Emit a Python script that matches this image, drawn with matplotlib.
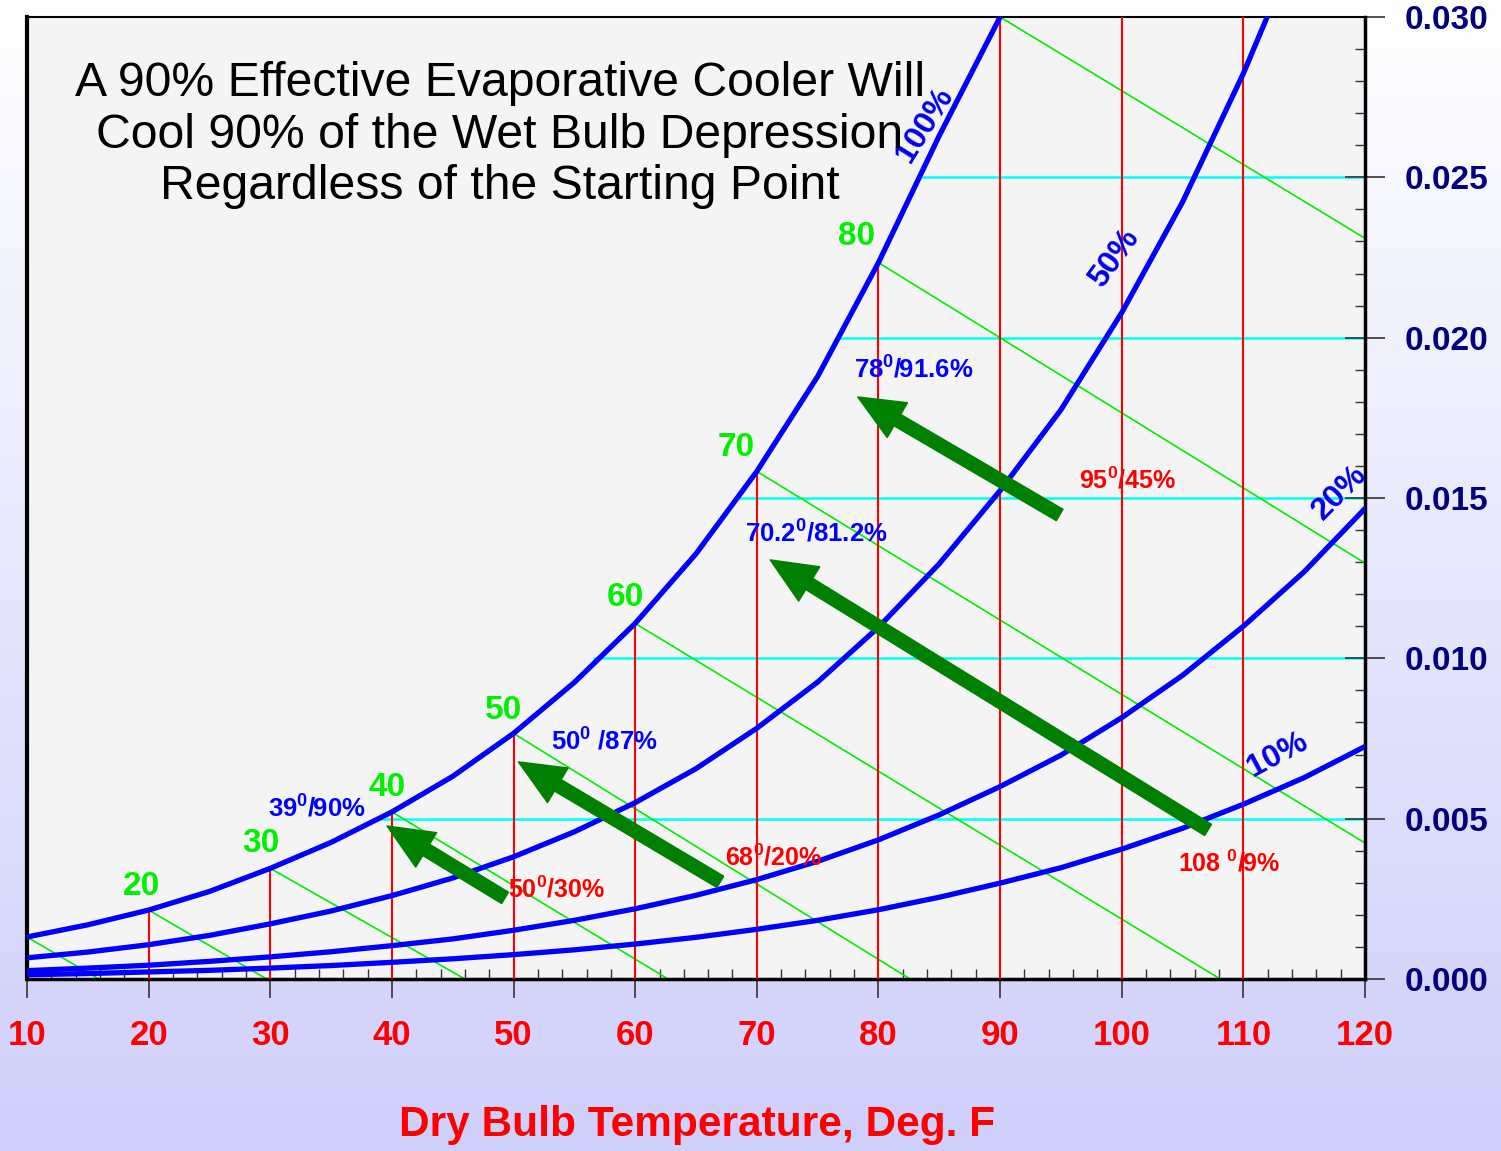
import matplotlib.pyplot as plt
import numpy as np
from matplotlib.colors import LinearSegmentedColormap
from matplotlib import font_manager

# dry bulb grid (deg F) and humidity ratio curves (lb water / lb dry air)
temps = [10, 15, 20, 25, 30, 35, 40, 45, 50, 55, 60, 65, 70, 75, 80, 85, 90,
         95, 100, 105, 110, 115, 120]
rh100 = [0.00131, 0.00169, 0.00215, 0.00273, 0.00345, 0.00426, 0.00521, 0.00632,
         0.00766, 0.00925, 0.01109, 0.01326, 0.01583, 0.01879, 0.02234, 0.0263, 0.0300]
rh50 = [0.00066, 0.00084, 0.00107, 0.00136, 0.00172, 0.00212, 0.00260, 0.00315,
        0.00381, 0.00459, 0.00550, 0.00656, 0.00782, 0.00926, 0.01097, 0.01295,
        0.01523, 0.01775, 0.02078, 0.02423, 0.02824, 0.03274, 0.03801]
rh20 = [0.00026, 0.00034, 0.00043, 0.00055, 0.00069, 0.00085, 0.00104, 0.00125,
        0.00152, 0.00183, 0.00219, 0.00261, 0.00310, 0.00367, 0.00434, 0.00512,
        0.00600, 0.00698, 0.00815, 0.00947, 0.01100, 0.01270, 0.01467]
rh10 = [0.00013, 0.00017, 0.00022, 0.00027, 0.00034, 0.00042, 0.00052, 0.00063,
        0.00076, 0.00091, 0.00109, 0.00130, 0.00155, 0.00183, 0.00216, 0.00255,
        0.00299, 0.00347, 0.00405, 0.00470, 0.00545, 0.00628, 0.00725]
rh_labels = ['100%', '50%', '20%', '10%']

# red dry bulb lines
db_temps = [20, 30, 40, 50, 60, 70, 80, 90, 100, 110]
db_tops = [0.00215, 0.00345, 0.00521, 0.00766, 0.01109, 0.01583, 0.02234, 0.030, 0.030, 0.030]

# green wet bulb lines
wb_labels = ['20', '30', '40', '50', '60', '70', '80']
wb_start_t = [10, 20, 30, 40, 50, 60, 70, 80, 90]
wb_start_w = [0.00131, 0.00215, 0.00345, 0.00521, 0.00766, 0.01109, 0.01583, 0.02234, 0.0300]
wb_end_t = [15.9, 29.7, 46.0, 62.7, 82.6, 108.1, 120, 120, 120]
wb_end_w = [0, 0, 0, 0, 0, 0, 0.00424, 0.01297, 0.0231]

# cyan constant humidity lines (start at dew point)
hum_w = [0.005, 0.010, 0.015, 0.020, 0.025]
hum_start_t = [39.0, 56.6, 68.6, 76.8, 83.7]

# evaporative cooling arrows (start -> end)
arr_t0 = [49.3, 67.0, 107.1, 94.9]
arr_w0 = [0.00253, 0.00303, 0.00465, 0.01447]
arr_t1 = [39.6, 50.4, 71.1, 78.3]
arr_w1 = [0.00477, 0.00677, 0.01307, 0.01815]

end_labels = ['39$^\\mathbf{0}$/90%', '50$^\\mathbf{0}$ /87%', '70.2$^\\mathbf{0}$/81.2%',
              '78$^\\mathbf{0}$/91.6%']
start_labels = ['50$^\\mathbf{0}$/30%', '68$^\\mathbf{0}$/20%', '95$^\\mathbf{0}$/45%',
                '108 $^\\mathbf{0}$/9%']

names = {f.name for f in font_manager.fontManager.ttflist}
narrow = 'Liberation Sans Narrow' if 'Liberation Sans Narrow' in names else 'Liberation Sans'

plt.rcParams['font.family'] = ['Liberation Sans', 'DejaVu Sans']
plt.rcParams['mathtext.fontset'] = 'custom'
plt.rcParams['mathtext.rm'] = 'Liberation Sans'
plt.rcParams['mathtext.bf'] = 'Liberation Sans:bold'

fig = plt.figure(figsize=(15.01, 11.51), dpi=100)

# background gradient
bg = fig.add_axes([0, 0, 1, 1], zorder=-10)
grad = np.linspace(0, 1, 256).reshape(-1, 1)
cmap = LinearSegmentedColormap.from_list('bg', ['#ffffff', '#cfcffb'])
bg.imshow(grad, aspect='auto', cmap=cmap, extent=[0, 1, 0, 1], origin='upper')
bg.axis('off')

ax = fig.add_axes([27 / 1501, 1 - 979 / 1151, 1338 / 1501, 962 / 1151])
ax.set_facecolor('#f4f4f4')

# humidity lines
for w, t in zip(hum_w, hum_start_t):
    ax.plot([t, 120], [w, w], color='#00ffff', lw=1.8, zorder=1)

# wet bulb lines
for t0, w0, t1, w1 in zip(wb_start_t, wb_start_w, wb_end_t, wb_end_w):
    ax.plot([t0, t1], [w0, w1], color='#00ee00', lw=1.2, zorder=2)

# dry bulb lines
for t, top in zip(db_temps, db_tops):
    ax.plot([t, t], [0, top], color='#ff0000', lw=1.5, zorder=3)

# relative humidity curves
ax.plot(temps[:len(rh100)], rh100, color='#0000ff', lw=3.8, zorder=4)
for curve in [rh50, rh20, rh10]:
    ax.plot(temps, curve, color='#0000ff', lw=3.8, zorder=4)

# arrows
for t0, w0, t1, w1 in zip(arr_t0, arr_w0, arr_t1, arr_w1):
    ax.annotate('', xy=(t1, w1), xytext=(t0, w0),
                arrowprops=dict(arrowstyle='simple,head_length=3.3,head_width=2.9,tail_width=0.95',
                                color='#008000', mutation_scale=10, shrinkA=0, shrinkB=0),
                zorder=5)

# wet bulb labels
wb_pos = [(19.4, 0.00290), (29.2, 0.00424), (39.6, 0.00596), (49.2, 0.00836),
          (59.2, 0.01191), (68.3, 0.01656), (78.2, 0.02314)]
for lab, (x, y) in zip(wb_labels, wb_pos):
    ax.text(x, y, lab, color='#00f000', fontsize=24, fontweight='bold',
            ha='center', va='center', zorder=6)

# RH labels
rh_pos = [(83.8, 0.02663, 58), (99.4, 0.02248, 54), (117.9, 0.01516, 45), (112.8, 0.00699, 28)]
for lab, (x, y, r) in zip(rh_labels, rh_pos):
    ax.text(x, y, lab, color='#0000ee', fontsize=23, fontweight='bold', rotation=r,
            ha='center', va='center', rotation_mode='anchor', zorder=6)

end_pos = [(33.84, 0.00536), (57.44, 0.00745), (74.87, 0.01394), (82.92, 0.01905)]
for lab, (x, y) in zip(end_labels, end_pos):
    ax.text(x, y, lab, color='#0000ff', fontsize=18.5, fontweight='bold',
            ha='center', va='center', zorder=6)

start_pos = [(53.5, 0.00281), (71.4, 0.0038), (100.5, 0.01556), (108.8, 0.00362)]
for lab, (x, y) in zip(start_labels, start_pos):
    ax.text(x, y, lab, color='#ff0000', fontsize=18, fontweight='bold', family=narrow,
            ha='center', va='center', zorder=6)

# headline text
lines = ['A 90% Effective Evaporative Cooler Will',
         'Cool 90% of the Wet Bulb Depression',
         'Regardless of the Starting Point']
for i, s in enumerate(lines):
    fig.text(500 / 1501, 1 - (96 + 51.5 * i) / 1151, s, fontsize=34.7, color='black',
             ha='center', va='baseline')

# axes
ax.set_xlim(10, 120)
ax.set_ylim(0, 0.030)
ax.set_xticks(np.arange(10, 121, 10))
ax.set_xticks(np.arange(10, 121, 2), minor=True)
ax.yaxis.tick_right()
ax.set_yticks(np.arange(0, 0.0301, 0.005))
ax.set_yticks(np.arange(0, 0.0301, 0.001), minor=True)
ax.yaxis.set_major_formatter('{x:.3f}')

ax.tick_params(axis='x', which='major', direction='inout', length=27, width=1.2,
               color='#333333', labelsize=25, labelcolor='#ff0000', pad=15)
ax.tick_params(axis='x', which='minor', direction='in', length=7, width=1, color='#333333')
ax.tick_params(axis='y', which='major', direction='inout', length=29, width=1.2,
               color='#333333', labelsize=24, labelcolor='#000080', pad=14)
ax.tick_params(axis='y', which='minor', direction='in', length=7, width=1, color='#333333')
for lbl in ax.get_xticklabels():
    lbl.set_fontweight('bold')
    lbl.set_family(narrow)
for lbl in ax.get_yticklabels():
    lbl.set_fontweight('bold')

ax.spines['left'].set_linewidth(3)
ax.spines['bottom'].set_linewidth(2.5)
ax.spines['right'].set_linewidth(2.5)
ax.spines['top'].set_linewidth(1.5)

fig.text(697 / 1501, 1 - 1125 / 1151, 'Dry Bulb Temperature, Deg. F', color='#ff0000',
         fontsize=30.5, fontweight='bold', family=narrow, ha='center', va='center')

fig.savefig('out.png', dpi=100)
